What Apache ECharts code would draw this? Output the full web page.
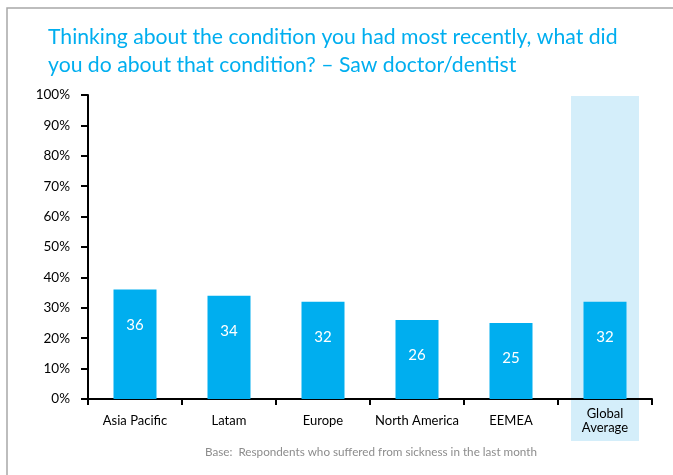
<!DOCTYPE html>
<html><head><meta charset="utf-8">
<script src="https://cdn.jsdelivr.net/npm/echarts@6/dist/echarts.min.js"></script>
<style>html,body{margin:0;padding:0;background:#fff}#c{width:673px;height:475px}</style>
</head><body><div id="c"></div>
<script>
const titleText = 'Thinking about the condition you had most recently, what did\nyou do about that condition? \u2013 Saw doctor/dentist';
const footText = 'Base:  Respondents who suffered from sickness in the last month';
const categories = ['Asia Pacific', 'Latam', 'Europe', 'North America', 'EEMEA', 'Global\nAverage'];
const values = [36, 34, 32, 26, 25, 32];
const yTicks = [0, 10, 20, 30, 40, 50, 60, 70, 80, 90, 100];
const highlightCategory = 'Global\nAverage';

const chart = echarts.init(document.getElementById('c'), null, {renderer: 'canvas'});
const FONT = 'Lato';
const option = {
  animation: false,
  backgroundColor: '#fff',
  textStyle: {fontFamily: FONT},
  title: {
    text: titleText, left: 43, top: 18,
    textStyle: {color: '#00AEEF', fontSize: 21.2, fontWeight: 'normal', fontFamily: FONT, lineHeight: 28}
  },
  grid: {left: 88, right: 21, top: 95, bottom: 76},
  xAxis: {
    type: 'category', data: categories,
    axisLine: {lineStyle: {color: '#000', width: 2}},
    axisTick: {show: true, length: 6, lineStyle: {color: '#000', width: 2}, alignWithLabel: false},
    axisLabel: {color: '#000', fontSize: 13, margin: 22, lineHeight: 13.5, interval: 0, verticalAlign: 'middle'}
  },
  yAxis: {
    type: 'value', min: yTicks[0], max: yTicks[yTicks.length - 1], interval: 10,
    axisLine: {show: true, lineStyle: {color: '#000', width: 2}},
    axisTick: {show: true, length: 7, inside: false, lineStyle: {color: '#000', width: 2}},
    splitLine: {show: false},
    axisLabel: {color: '#000', fontSize: 13.5, margin: 18, formatter: v => v + '%'}
  },
  series: [{
    type: 'bar', data: values, barWidth: 43, z: 3,
    itemStyle: {color: '#00AEEF'},
    label: {show: true, position: 'insideTop', distance: 28, color: '#fff', fontSize: 15, fontFamily: FONT}
  }]
};
chart.setOption(option);

const cx = chart.convertToPixel({xAxisIndex: 0}, highlightCategory);
const yTop = chart.convertToPixel({yAxisIndex: 0}, yTicks[yTicks.length - 1]);
const y0 = chart.convertToPixel({yAxisIndex: 0}, 0);
chart.setOption({
  graphic: [
    {type: 'rect', z: -1, silent: true, shape: {x: cx - 34, y: yTop + 1, width: 68, height: (y0 + 42) - (yTop + 1)}, style: {fill: '#D4EEFA'}},
    {type: 'rect', z: 100, silent: true, shape: {x: 7, y: 8, width: 700, height: 500}, style: {fill: 'none', stroke: '#A8A8A8', lineWidth: 1.5}},
    {type: 'text', z: 100, x: 371, y: 452, style: {text: footText, fill: '#8C8C8C', fontSize: 11.7, fontFamily: FONT, align: 'center', verticalAlign: 'middle'}}
  ]
});
</script></body></html>
